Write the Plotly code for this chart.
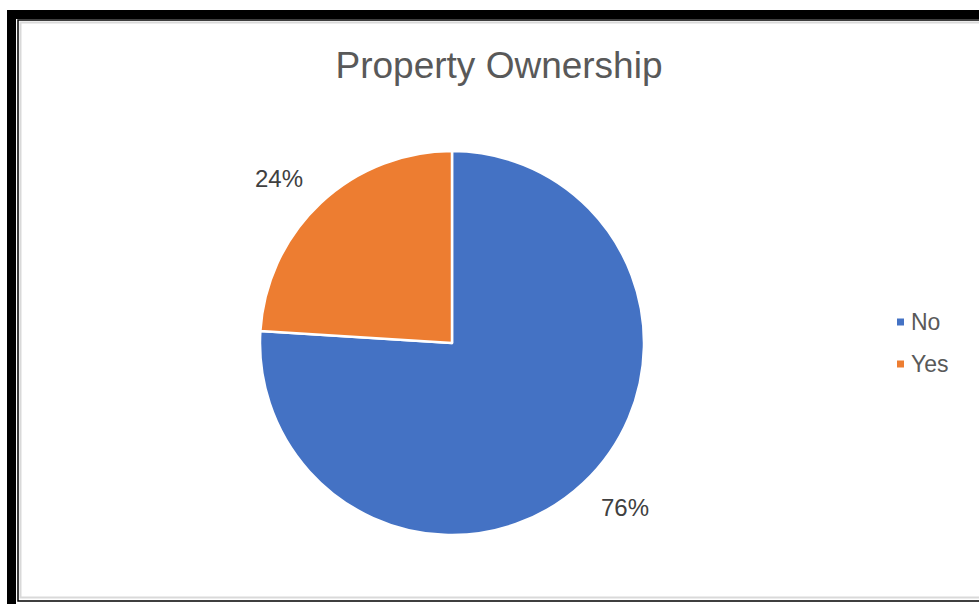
import math
import plotly.graph_objects as go

# Property ownership shares
labels = ["No", "Yes"]
shares = [76, 24]
colors = ["#4472C4", "#ED7D31"]

W, H = 979, 604
FONT = "Liberation Sans, Arial"


def px(x):
    return x / W


def py(y):
    return 1 - y / H


cx, cy, r = 452, 343, 192

fig = go.Figure(
    go.Pie(
        labels=labels,
        values=shares,
        sort=False,
        direction="clockwise",
        rotation=0,
        marker=dict(colors=colors, line=dict(color="white", width=2.5)),
        textinfo="none",
        domain=dict(x=[px(cx - r), px(cx + r)], y=[py(cy + r), py(cy - r)]),
        showlegend=False,
        hoverinfo="label+percent",
    )
)

# Percentage labels placed outside each slice, along its mid angle
annotations = []
total = sum(shares)
start = 0.0
label_rx, label_ry = 252, 225
for lab, val in zip(labels, shares):
    frac = val / total
    mid = (start + frac / 2) * 2 * math.pi  # clockwise from 12 o'clock
    start += frac
    x = cx + label_rx * math.sin(mid)
    y = cy - label_ry * math.cos(mid)
    annotations.append(dict(
        x=px(x), y=py(y), xref="paper", yref="paper",
        text=f"{round(frac * 100)}%", showarrow=False,
        xanchor="center", yanchor="middle",
        font=dict(family=FONT, size=24, color="#404040"),
    ))

# Legend drawn as small squares plus labels
shapes = []
leg_x, leg_y0, leg_step, sq = 897, 322, 42, 7
for i, (lab, col) in enumerate(zip(labels, colors)):
    yc = leg_y0 + i * leg_step
    shapes.append(dict(type="rect", xref="paper", yref="paper",
                       x0=px(leg_x), x1=px(leg_x + sq),
                       y0=py(yc + sq / 2), y1=py(yc - sq / 2),
                       fillcolor=col, line_width=0))
    annotations.append(dict(
        x=px(leg_x + sq + 5), y=py(yc), xref="paper", yref="paper",
        text=lab, showarrow=False, xanchor="left", yanchor="middle",
        font=dict(family=FONT, size=23, color="#595959"),
    ))

# Outer frame: thick black bands, thin black rule and a grey inner rule
shapes += [
    dict(type="rect", xref="paper", yref="paper", x0=px(7), x1=px(16), y0=py(610), y1=py(10),
         fillcolor="black", line_width=0),
    dict(type="rect", xref="paper", yref="paper", x0=px(7), x1=px(990), y0=py(19), y1=py(10),
         fillcolor="black", line_width=0),
    dict(type="rect", xref="paper", yref="paper", x0=px(18), x1=px(995), y0=py(601), y1=py(20),
         line=dict(color="black", width=1.5), fillcolor="rgba(0,0,0,0)"),
    dict(type="rect", xref="paper", yref="paper", x0=px(20.5), x1=px(995), y0=py(597.5), y1=py(22.5),
         line=dict(color="#D9D9D9", width=2), fillcolor="rgba(0,0,0,0)"),
]

fig.update_layout(
    width=W,
    height=H,
    margin=dict(l=0, r=0, t=0, b=0),
    paper_bgcolor="white",
    plot_bgcolor="white",
    shapes=shapes,
    annotations=annotations,
    showlegend=False,
    title=dict(
        text="Property Ownership",
        x=px(499), xanchor="center",
        y=py(65), yanchor="middle",
        font=dict(family=FONT, size=37, color="#595959"),
    ),
)

fig.write_html("out.html")
